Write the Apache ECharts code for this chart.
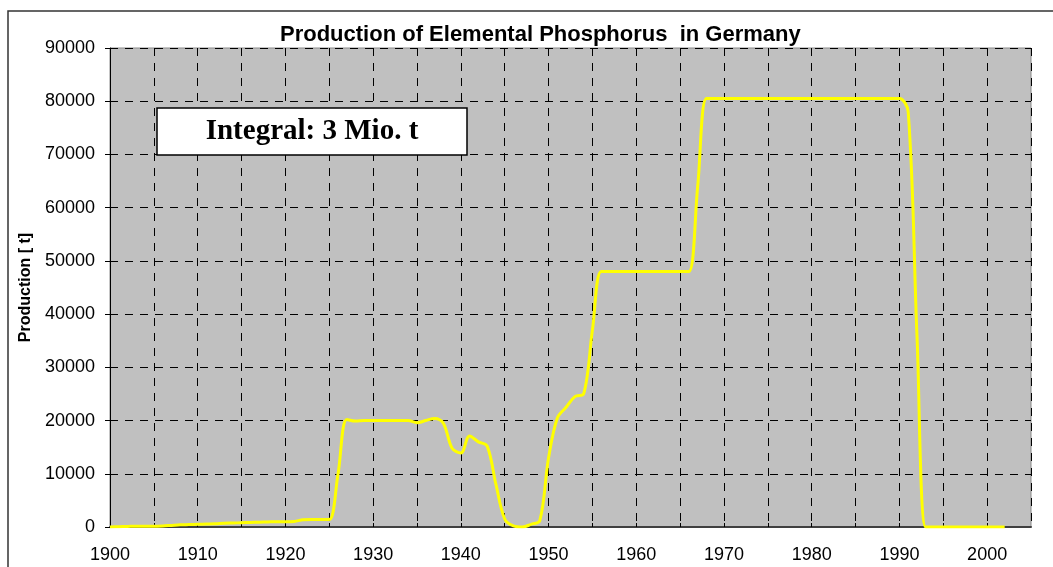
<!DOCTYPE html>
<html>
<head>
<meta charset="utf-8">
<style>
  html, body { margin: 0; padding: 0; background: #fff; }
  #chart { width: 1053px; height: 567px; }
</style>
<script src="https://cdn.jsdelivr.net/npm/echarts@6/dist/echarts.min.js"></script>
</head>
<body>
<div id="chart"></div>
<script>
// yearly production of elemental phosphorus (t)
const years = [
  1900, 1901, 1902, 1903, 1904, 1905, 1906, 1907, 1908, 1909,
  1910, 1911, 1912, 1913, 1914, 1915, 1916, 1917, 1918, 1919,
  1920, 1921, 1922, 1923, 1924, 1925, 1926, 1927, 1928, 1929,
  1930, 1931, 1932, 1933, 1934, 1935, 1936, 1937, 1938, 1939,
  1940, 1941, 1942, 1943, 1944, 1945, 1946, 1947, 1948, 1949,
  1950, 1951, 1952, 1953, 1954, 1955, 1956, 1957, 1958, 1959,
  1960, 1961, 1962, 1963, 1964, 1965, 1966, 1967, 1968, 1969,
  1970, 1971, 1972, 1973, 1974, 1975, 1976, 1977, 1978, 1979,
  1980, 1981, 1982, 1983, 1984, 1985, 1986, 1987, 1988, 1989,
  1990, 1991, 1992, 1993, 1994, 1995, 1996, 1997, 1998, 1999,
  2000, 2001, 2002
];
const production = [
  0, 50, 100, 150, 150, 150, 200, 300, 400, 450,
  500, 550, 600, 700, 750, 800, 850, 900, 950, 1000,
  1000, 1050, 1350, 1400, 1400, 1400, 10000, 20200, 19900, 20000,
  20000, 20000, 20000, 20000, 20000, 19600, 20000, 20400, 19500, 14800,
  13900, 17100, 16000, 15200, 8000, 1500, 200, 0, 500, 1200,
  13000, 20500, 22500, 24500, 25000, 37000, 48000, 48000, 48000, 48000,
  48000, 48000, 48000, 48000, 48000, 48000, 48000, 64000, 80500, 80500,
  80500, 80500, 80500, 80500, 80500, 80500, 80500, 80500, 80500, 80500,
  80500, 80500, 80500, 80500, 80500, 80500, 80500, 80500, 80500, 80500,
  80500, 78000, 36000, 0, 0, 0, 0, 0, 0, 0,
  0, 0, 0
];

const chart = echarts.init(document.getElementById('chart'));

const gridLine = { show: true, lineStyle: { color: '#000', width: 1, type: [8, 7] } };

chart.setOption({
  backgroundColor: '#fff',
  animation: false,
  title: {
    text: 'Production of Elemental Phosphorus  in Germany',
    left: 275,
    top: 19,
    textStyle: { fontFamily: 'Liberation Sans, Arial', fontSize: 22, fontWeight: 'bold', color: '#000' }
  },
  grid: {
    left: 110, right: 22, top: 48, bottom: 40,
    show: true,
    backgroundColor: '#C0C0C0',
    borderColor: '#8a8a8a',
    borderWidth: 1
  },
  xAxis: {
    type: 'value',
    min: 1900,
    max: 2005,
    interval: 5,
    axisLine: { show: true, onZero: false, lineStyle: { color: '#404040', width: 2 } },
    axisTick: { show: true, inside: true, length: 4, lineStyle: { color: '#000' } },
    axisLabel: {
      margin: 19,
      fontFamily: 'Liberation Sans, Arial',
      fontSize: 18,
      color: '#000',
      showMaxLabel: false,
      formatter: v => (v % 10 === 0 ? String(v) : '')
    },
    splitLine: gridLine
  },
  yAxis: {
    type: 'value',
    min: 0,
    max: 90000,
    interval: 10000,
    name: 'Production [ t]',
    nameLocation: 'middle',
    nameGap: 70,
    nameTextStyle: { fontFamily: 'Liberation Sans, Arial', fontSize: 16, fontWeight: 'bold', color: '#000' },
    axisLine: { show: true, lineStyle: { color: '#000', width: 1 } },
    axisTick: { show: true, inside: false, length: 5, lineStyle: { color: '#000' } },
    axisLabel: {
      margin: 15,
      fontFamily: 'Liberation Sans, Arial',
      fontSize: 18,
      color: '#000',
      formatter: v => String(v)
    },
    splitLine: gridLine
  },
  graphic: [
    {
      type: 'rect',
      shape: { x: 8, y: 11, width: 1100, height: 700 },
      style: { fill: 'none', stroke: '#333', lineWidth: 1.5 },
      silent: true,
      z: 100
    },
    {
      type: 'rect',
      shape: { x: 157, y: 108, width: 310, height: 47 },
      style: { fill: '#fff', stroke: '#000', lineWidth: 1.5 },
      z: 100
    },
    {
      type: 'text',
      x: 312,
      y: 132,
      style: {
        text: 'Integral: 3 Mio. t',
        fontFamily: 'Liberation Serif, Times New Roman',
        fontSize: 29,
        fontWeight: 'bold',
        fill: '#000',
        align: 'center',
        verticalAlign: 'middle'
      },
      z: 101
    }
  ],
  series: [{
    type: 'line',
    data: years.map((y, i) => [y, production[i]]),
    smooth: 0.35,
    symbol: 'none',
    lineStyle: { color: '#FFFF00', width: 3 },
    z: 5
  }]
});
</script>
</body>
</html>
